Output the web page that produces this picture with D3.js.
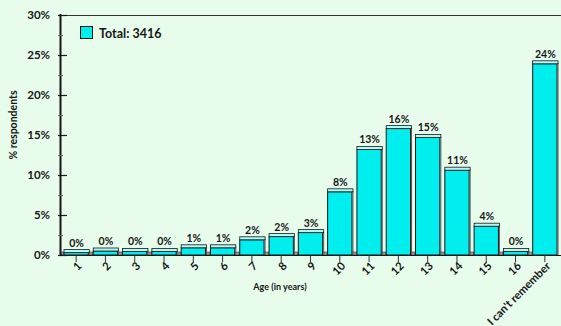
<!DOCTYPE html>
<html><head><meta charset="utf-8">
<script src="https://cdn.jsdelivr.net/npm/d3@7"></script>
<style>
html,body{margin:0;padding:0;background:#e8fcec;}
svg{display:block;font-family:Lato,"Open Sans",sans-serif;font-weight:700;}
</style></head>
<body>
<svg id="c" width="561" height="326"></svg>
<script>
const categories = ["1","2","3","4","5","6","7","8","9","10","11","12","13","14","15","16","I can't remember"];
const values = [0.3,0.5,0.45,0.45,0.9,0.9,1.9,2.3,2.8,7.9,13.2,15.8,14.7,10.6,3.6,0.45,23.9];
const valueLabels = ["0%","0%","0%","0%","1%","1%","2%","2%","3%","8%","13%","16%","15%","11%","4%","0%","24%"];
const yTicks = [0,5,10,15,20,25,30];
const yMinor = [2.5,7.5,12.5,17.5,22.5,27.5];
const legendLabel = "Total: 3416";

const svg = d3.select("#c");
const x0 = 60, x1 = 561, yTop = 15, yBot = 255;
const y = d3.scaleLinear().domain([0,30]).range([yBot,yTop]);
const x = d3.scaleBand().domain(categories).range([61,559]).paddingInner(0.17).paddingOuter(0.085);
const ink = "#161616";
const cyan = "#00eeee";

svg.append("line").attr("x1",x0).attr("x2",x1).attr("y1",yTop+0.5).attr("y2",yTop+0.5).attr("stroke","#333").attr("stroke-width",1);

const bw = x.bandwidth();
categories.forEach((c,i)=>{
  if(i===0) {
    svg.append("rect").attr("x",x0+1).attr("y",yBot-3).attr("width",x(c)-x0-1).attr("height",3).attr("fill","#999").attr("stroke","#333").attr("stroke-width",0.6);
  }
  if(i<categories.length-1){
    const gx = x(c)+bw, gw = x(categories[i+1])-gx;
    svg.append("rect").attr("x",gx).attr("y",yBot-3).attr("width",gw).attr("height",3).attr("fill","#999").attr("stroke","#333").attr("stroke-width",0.6);
  }
});

const g = svg.append("g");
const bars = g.selectAll("g.bar").data(categories.map((c,i)=>({c,v:values[i],l:valueLabels[i]}))).join("g");
bars.append("rect")
  .attr("x",d=>x(d.c)+0.5).attr("y",d=>y(d.v))
  .attr("width",bw).attr("height",d=>yBot-y(d.v))
  .attr("fill",cyan).attr("stroke",ink).attr("stroke-width",1);
bars.append("line")
  .attr("x1",d=>x(d.c)+bw+1.5).attr("x2",d=>x(d.c)+bw+1.5)
  .attr("y1",d=>y(d.v)-1).attr("y2",yBot)
  .attr("stroke","#555").attr("stroke-width",1);
bars.append("rect")
  .attr("x",d=>x(d.c)+0.5).attr("y",d=>y(d.v)-3)
  .attr("width",bw+1).attr("height",3)
  .attr("fill","#b2faf8").attr("stroke",ink).attr("stroke-width",0.8);
bars.append("text")
  .attr("x",d=>x(d.c)+bw/2+1).attr("y",d=>y(d.v)-6)
  .attr("text-anchor","middle").attr("font-size",10.5).attr("fill",ink)
  .text(d=>d.l);

svg.append("line").attr("x1",x0).attr("x2",x1).attr("y1",yBot+0.5).attr("y2",yBot+0.5).attr("stroke",ink).attr("stroke-width",1);

const yAxis = svg.append("g");
yAxis.append("line").attr("x1",x0+0.5).attr("x2",x0+0.5).attr("y1",yTop-1).attr("y2",yBot+1).attr("stroke",ink).attr("stroke-width",2);
yAxis.selectAll("line.maj").data(yTicks).join("line")
  .attr("x1",x0-2).attr("x2",x0+7).attr("y1",d=>y(d)+0.5).attr("y2",d=>y(d)+0.5)
  .attr("stroke",ink).attr("stroke-width",1.2);
yAxis.selectAll("line.min").data(yMinor).join("line")
  .attr("x1",x0-2).attr("x2",x0+3).attr("y1",d=>y(d)+0.5).attr("y2",d=>y(d)+0.5)
  .attr("stroke","#666").attr("stroke-width",1);
yAxis.selectAll("text").data(yTicks).join("text")
  .attr("x",50).attr("y",d=>y(d)).attr("dy","0.36em")
  .attr("text-anchor","end").attr("font-size",11.5).attr("fill",ink)
  .text(d=>d+"%");

const xAxis = svg.append("g");
xAxis.selectAll("line").data(categories).join("line")
  .attr("x1",d=>x(d)+bw/2+0.5).attr("x2",d=>x(d)+bw/2+0.5)
  .attr("y1",yBot).attr("y2",yBot+7).attr("stroke","#333").attr("stroke-width",1);
xAxis.selectAll("text").data(categories).join("text")
  .attr("transform",d=>`translate(${x(d)+bw/2+4},${yBot+9}) rotate(-45)`)
  .attr("dy","0.35em").attr("text-anchor","end").attr("font-size",11.2).attr("fill",ink)
  .text(d=>d);

svg.append("text").attr("x",280).attr("y",290).attr("text-anchor","middle").attr("font-size",9).attr("fill",ink).text("Age (in years)");
svg.append("text").attr("transform","translate(17,125) rotate(-90)").attr("text-anchor","middle").attr("font-size",10.5).attr("fill",ink).text("% respondents");

svg.append("rect").attr("x",80.5).attr("y",26.5).attr("width",12).attr("height",12).attr("fill",cyan).attr("stroke",ink).attr("stroke-width",1);
svg.append("text").attr("x",99).attr("y",37.5).attr("font-size",12.5).attr("fill",ink).text(legendLabel);
</script>
</body></html>
